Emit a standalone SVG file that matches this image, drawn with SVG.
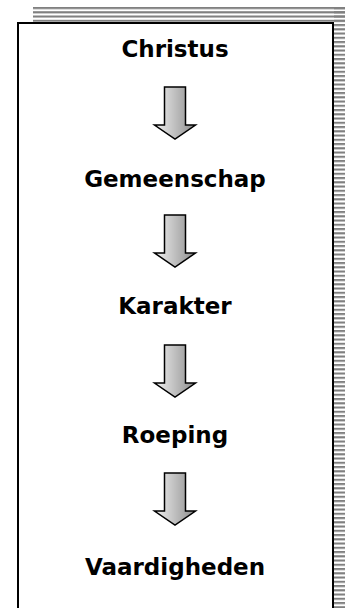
<svg xmlns="http://www.w3.org/2000/svg" width="345" height="608" viewBox="0 0 345 608">
  <style>
    .lbl { font-family: "DejaVu Sans", "Liberation Sans", sans-serif; font-weight: bold; font-size: 23px; fill: #000; text-anchor: middle; }
    .arrow { fill: url(#ag); stroke: #000; stroke-width: 1.5; stroke-linejoin: miter; }
  </style>
  <defs>
    <pattern id="stripes" patternUnits="userSpaceOnUse" x="0" y="7" width="345" height="4.25">
      <rect x="0" y="0" width="345" height="2.1" fill="#808080"/>
    </pattern>
    <linearGradient id="ag" x1="0" y1="0" x2="1" y2="0">
      <stop offset="0" stop-color="#f2f2f2"/>
      <stop offset="1" stop-color="#8c8c8c"/>
    </linearGradient>
    <path id="arr" d="M -10.5 0 H 10.5 V 38 H 20.5 L 0 52 L -20.5 38 H -10.5 Z"/>
  </defs>
  <g id="shadow">
    <rect x="33" y="7" width="312" height="15" fill="url(#stripes)"/>
    <rect x="334" y="7" width="11" height="601" fill="url(#stripes)"/>
  </g>
  <g id="frame">
    <rect x="18" y="23" width="315" height="600" fill="#fff" stroke="#000" stroke-width="2"/>
  </g>
  <g id="connectors">
    <use href="#arr" class="arrow" transform="translate(175,87)"/>
    <use href="#arr" class="arrow" transform="translate(175,215)"/>
    <use href="#arr" class="arrow" transform="translate(175,345)"/>
    <use href="#arr" class="arrow" transform="translate(175,473)"/>
  </g>
  <g id="n1"><text class="lbl" x="175" y="57">Christus</text></g>
  <g id="n2"><text class="lbl" x="175" y="187">Gemeenschap</text></g>
  <g id="n3"><text class="lbl" x="175" y="314">Karakter</text></g>
  <g id="n4"><text class="lbl" x="175" y="443">Roeping</text></g>
  <g id="n5"><text class="lbl" x="175" y="575">Vaardigheden</text></g>
</svg>
